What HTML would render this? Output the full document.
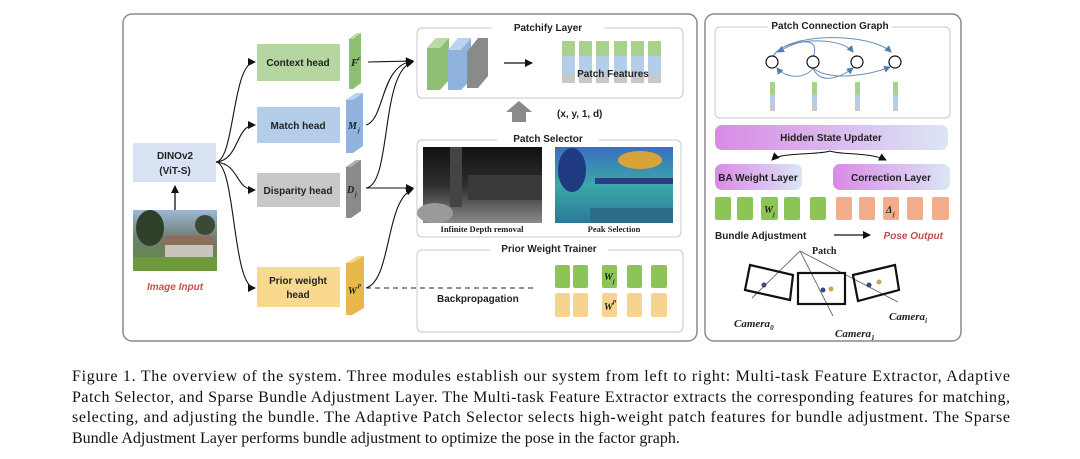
<!DOCTYPE html>
<html><head><meta charset="utf-8"><style>
html,body{margin:0;padding:0;background:#fff;}
svg{display:block;}
.b{font-family:"Liberation Sans",sans-serif;font-weight:bold;font-size:10px;fill:#222;}
.s{font-family:"Liberation Serif",serif;font-size:16px;fill:#111;}
.m{font-family:"Liberation Serif",serif;font-style:italic;font-weight:bold;fill:#222;}
</style></head><body>
<svg width="1080" height="459" viewBox="0 0 1080 459" xmlns="http://www.w3.org/2000/svg">
<defs>
<marker id="ar" markerWidth="8" markerHeight="8" refX="7" refY="4" orient="auto" markerUnits="userSpaceOnUse"><path d="M0,0 L8,4 L0,8 z" fill="#111"/></marker>
<marker id="ab" markerWidth="7" markerHeight="7" refX="6" refY="3.5" orient="auto" markerUnits="userSpaceOnUse"><path d="M0,0 L7,3.5 L0,7 z" fill="#4a7fb0"/></marker>
<linearGradient id="hg" x1="0" x2="1"><stop offset="0" stop-color="#d98ae6"/><stop offset="1" stop-color="#dbe6f5"/></linearGradient>
<linearGradient id="sky" x1="0" y1="0" x2="0" y2="1"><stop offset="0" stop-color="#9bb8d8"/><stop offset="0.45" stop-color="#6f7f70"/><stop offset="1" stop-color="#5f8a3a"/></linearGradient>
<linearGradient id="dep" x1="0" y1="0" x2="0" y2="1"><stop offset="0" stop-color="#111"/><stop offset="0.5" stop-color="#2e2e2e"/><stop offset="1" stop-color="#8a8a8a"/></linearGradient>
<linearGradient id="pk" x1="0" y1="0" x2="0" y2="1"><stop offset="0" stop-color="#3a6fc0"/><stop offset="0.5" stop-color="#3aa8a8"/><stop offset="1" stop-color="#2a7a9a"/></linearGradient>
</defs>
<rect x="0" y="0" width="1080" height="459" fill="#fff"/>
<rect x="123" y="14" width="574" height="327" rx="9" fill="#fff" stroke="#8a8a8a" stroke-width="1.5"/>
<rect x="705" y="14" width="256" height="327" rx="9" fill="#fff" stroke="#8a8a8a" stroke-width="1.5"/>

<rect x="133" y="143" width="83" height="39" fill="#d9e2f3"/>
<text class="b" x="175" y="159" text-anchor="middle">DINOv2</text>
<text class="b" x="175" y="174" text-anchor="middle">(ViT-S)</text>
<rect x="133" y="210" width="84" height="61" fill="url(#sky)"/>
<ellipse cx="150" cy="228" rx="14" ry="18" fill="#2f3f2a"/>
<ellipse cx="205" cy="225" rx="10" ry="10" fill="#3a4a33"/>
<polygon points="166,236 210,236 217,245 160,245" fill="#8c6e5c"/>
<rect x="165" y="245" width="48" height="12" fill="#c9c5bd"/>
<rect x="133" y="257" width="84" height="14" fill="#6c9a3c"/>
<line x1="175" y1="210" x2="175" y2="186" stroke="#111" stroke-width="1.3" marker-end="url(#ar)"/>
<text x="175" y="290" text-anchor="middle" font-family="Liberation Sans,sans-serif" font-size="10" font-style="italic" font-weight="bold" fill="#c0504d">Image Input</text>

<g fill="none" stroke="#111" stroke-width="1.1">
<path d="M216,162 C235,160 232,62 255,62" marker-end="url(#ar)"/>
<path d="M216,162 C240,160 235,125 255,125" marker-end="url(#ar)"/>
<path d="M216,162 C240,164 235,190 255,190" marker-end="url(#ar)"/>
<path d="M216,162 C236,164 232,288 255,288" marker-end="url(#ar)"/>
</g>
<rect x="257" y="44" width="83" height="37" fill="#b5d6a0"/>
<text class="b" x="298" y="66" text-anchor="middle">Context head</text>
<rect x="257" y="107" width="83" height="36" fill="#b4cde8"/>
<text class="b" x="298" y="129" text-anchor="middle">Match head</text>
<rect x="257" y="173" width="83" height="34" fill="#c8c8c8"/>
<text class="b" x="298" y="194" text-anchor="middle">Disparity head</text>
<rect x="257" y="267" width="83" height="40" fill="#f8d98f"/>
<text class="b" x="298" y="284" text-anchor="middle">Prior weight</text>
<text class="b" x="298" y="298" text-anchor="middle">head</text>
<polygon points="349,39 357,33 361,33 361,83 353,89 349,89" fill="#8fbf73"/><polygon points="349,39 357,33 361,33 353,39" fill="#b9dba4"/>
<text class="m" x="351" y="66" font-size="11">F</text><text class="m" x="358" y="60" font-size="6">c</text>
<polygon points="346,100 356,93 363,93 363,146 353,153 346,153" fill="#8fb3dc"/><polygon points="346,100 356,93 363,93 353,100" fill="#bcd3ee"/>
<text class="m" x="348" y="129" font-size="10">M</text><text class="m" x="358" y="132" font-size="6">j</text>
<polygon points="346,167 356,160 361,160 361,211 351,218 346,218" fill="#8a8a8a"/><polygon points="346,167 356,160 361,160 351,167" fill="#b0b0b0"/>
<text class="m" x="347" y="193" font-size="10">D</text><text class="m" x="355" y="196" font-size="6">j</text>
<polygon points="346,263 358,256 364,256 364,308 352,315 346,315" fill="#e8b84a"/><polygon points="346,263 358,256 364,256 352,263" fill="#f6d68a"/>
<text class="m" x="348" y="294" font-size="10">W</text><text class="m" x="358" y="287" font-size="6">p</text>

<g fill="none" stroke="#111" stroke-width="1.1">
<path d="M368,62 L413,61" marker-end="url(#ar)"/>
<path d="M366,125 C385,120 380,65 413,61" marker-end="url(#ar)"/>
<path d="M366,188 C392,185 380,70 413,62" marker-end="url(#ar)"/>
<path d="M366,188 L413,188" marker-end="url(#ar)"/>
<path d="M366,288 C392,280 385,200 413,189" marker-end="url(#ar)"/>
</g>

<rect x="417" y="28" width="266" height="70" rx="5" fill="#fff" stroke="#c8c8c8" stroke-width="1"/>
<rect x="492" y="22" width="112" height="12" fill="#fff"/>
<text class="b" x="548" y="31" text-anchor="middle">Patchify Layer</text>
<polygon points="427,48 436,38 449,38 449,80 440,90 427,90" fill="#8fbf73"/><polygon points="427,48 436,38 449,38 440,48" fill="#b9dba4"/>
<polygon points="448,50 458,38 471,38 471,80 461,90 448,90" fill="#8fb3dc"/><polygon points="448,50 458,38 471,38 461,50" fill="#bcd3ee"/>
<polygon points="467,52 478,38 488,38 488,76 478,88 467,88" fill="#8a8a8a"/>
<line x1="504" y1="63" x2="532" y2="63" stroke="#111" stroke-width="1.2" marker-end="url(#ar)"/>
<g>
<rect x="562" y="41" width="13" height="15" fill="#a9d18e"/><rect x="562" y="56" width="13" height="18" fill="#b4cde8"/><rect x="562" y="74" width="13" height="9" fill="#c8c8c8"/>
<rect x="579" y="41" width="13" height="15" fill="#a9d18e"/><rect x="579" y="56" width="13" height="18" fill="#b4cde8"/><rect x="579" y="74" width="13" height="9" fill="#c8c8c8"/>
<rect x="596" y="41" width="13" height="15" fill="#a9d18e"/><rect x="596" y="56" width="13" height="18" fill="#b4cde8"/><rect x="596" y="74" width="13" height="9" fill="#c8c8c8"/>
<rect x="614" y="41" width="13" height="15" fill="#a9d18e"/><rect x="614" y="56" width="13" height="18" fill="#b4cde8"/><rect x="614" y="74" width="13" height="9" fill="#c8c8c8"/>
<rect x="631" y="41" width="13" height="15" fill="#a9d18e"/><rect x="631" y="56" width="13" height="18" fill="#b4cde8"/><rect x="631" y="74" width="13" height="9" fill="#c8c8c8"/>
<rect x="648" y="41" width="13" height="15" fill="#a9d18e"/><rect x="648" y="56" width="13" height="18" fill="#b4cde8"/><rect x="648" y="74" width="13" height="9" fill="#c8c8c8"/>
</g>
<text class="b" x="613" y="77" text-anchor="middle" font-size="10.5">Patch Features</text>
<polygon points="512,122 512,112 506,112 519,101 532,112 526,112 526,122" fill="#8a8a8a"/>
<text class="b" x="557" y="117">(x, y, 1, d)</text>

<rect x="417" y="140" width="264" height="97" rx="5" fill="#fff" stroke="#c8c8c8" stroke-width="1"/>
<rect x="497" y="134" width="102" height="12" fill="#fff"/>
<text class="b" x="548" y="142" text-anchor="middle">Patch Selector</text>
<rect x="423" y="147" width="119" height="76" fill="url(#dep)"/>
<rect x="450" y="147" width="12" height="60" fill="#444"/>
<rect x="468" y="175" width="74" height="25" fill="#3a3a3a"/>
<ellipse cx="435" cy="213" rx="18" ry="10" fill="#9a9a9a"/>
<rect x="555" y="147" width="118" height="76" fill="url(#pk)"/>
<ellipse cx="572" cy="170" rx="14" ry="22" fill="#1f3a80"/>
<ellipse cx="640" cy="160" rx="22" ry="9" fill="#d8a43a"/>
<rect x="595" y="178" width="78" height="6" fill="#2a3d86"/>
<rect x="590" y="208" width="83" height="15" fill="#2b6c8a"/>
<text x="482" y="232" text-anchor="middle" font-family="Liberation Serif,serif" font-weight="bold" font-size="8.5" fill="#222">Infinite Depth removal</text>
<text x="614" y="232" text-anchor="middle" font-family="Liberation Serif,serif" font-weight="bold" font-size="8.5" fill="#222">Peak Selection</text>

<rect x="417" y="250" width="266" height="82" rx="5" fill="#fff" stroke="#c8c8c8" stroke-width="1"/>
<rect x="490" y="244" width="118" height="12" fill="#fff"/>
<text class="b" x="549" y="252" text-anchor="middle">Prior Weight Trainer</text>
<line x1="366" y1="288" x2="533" y2="288" stroke="#222" stroke-width="1.1" stroke-dasharray="5,4"/>
<text class="b" x="437" y="302">Backpropagation</text>
<g fill="#8dc456">
<rect x="555" y="265" width="15" height="23" rx="2"/><rect x="573" y="265" width="15" height="23" rx="2"/><rect x="602" y="265" width="15" height="23" rx="2"/><rect x="627" y="265" width="15" height="23" rx="2"/><rect x="651" y="265" width="16" height="23" rx="2"/>
</g>
<g fill="#f7d38f">
<rect x="555" y="293" width="15" height="24" rx="2"/><rect x="573" y="293" width="15" height="24" rx="2"/><rect x="602" y="293" width="15" height="24" rx="2"/><rect x="627" y="293" width="15" height="24" rx="2"/><rect x="651" y="293" width="16" height="24" rx="2"/>
</g>
<text class="m" x="604" y="280" font-size="10">W</text><text class="m" x="613" y="283" font-size="6">j</text>
<text class="m" x="604" y="310" font-size="10">W</text><text class="m" x="613" y="303" font-size="6">p</text>

<rect x="715" y="27" width="235" height="91" rx="5" fill="#fff" stroke="#c8c8c8" stroke-width="1"/>
<rect x="768" y="21" width="124" height="12" fill="#fff"/>
<text class="b" x="830" y="29" text-anchor="middle">Patch Connection Graph</text>
<g fill="none" stroke="#6a8fb5" stroke-width="1">
<path d="M773,57 C780,38 840,35 853,52" marker-end="url(#ab)"/>
<path d="M773,57 C785,32 870,32 891,52" marker-end="url(#ab)"/>
<path d="M813,57 C820,40 805,36 778,52" marker-end="url(#ab)"/>
<path d="M813,68 C830,82 870,75 890,67" marker-end="url(#ab)"/>
<path d="M813,68 C820,85 840,78 853,68" marker-end="url(#ab)"/>
<path d="M813,68 C805,80 785,78 777,68" marker-end="url(#ab)"/>
</g>
<g fill="#fff" stroke="#111" stroke-width="1.2">
<circle cx="772" cy="62" r="6"/><circle cx="813" cy="62" r="6"/><circle cx="857" cy="62" r="6"/><circle cx="895" cy="62" r="6"/>
</g>
<g>
<rect x="770" y="82" width="5" height="13" fill="#a9d18e"/><rect x="770" y="95" width="5" height="10" fill="#b4cde8"/><rect x="770" y="105" width="5" height="6" fill="#c8c8c8"/>
<rect x="812" y="82" width="5" height="13" fill="#a9d18e"/><rect x="812" y="95" width="5" height="10" fill="#b4cde8"/><rect x="812" y="105" width="5" height="6" fill="#c8c8c8"/>
<rect x="855" y="82" width="5" height="13" fill="#a9d18e"/><rect x="855" y="95" width="5" height="10" fill="#b4cde8"/><rect x="855" y="105" width="5" height="6" fill="#c8c8c8"/>
<rect x="893" y="82" width="5" height="13" fill="#a9d18e"/><rect x="893" y="95" width="5" height="10" fill="#b4cde8"/><rect x="893" y="105" width="5" height="6" fill="#c8c8c8"/>
</g>
<rect x="715" y="125" width="233" height="25" rx="7" fill="url(#hg)"/>
<text class="b" x="831" y="141" text-anchor="middle">Hidden State Updater</text>
<g fill="none" stroke="#111" stroke-width="1"><path d="M830,151 C820,155 780,152 772,160" marker-end="url(#ar)"/><path d="M830,151 C840,155 870,152 886,160" marker-end="url(#ar)"/></g>
<rect x="715" y="164" width="87" height="26" rx="7" fill="url(#hg)"/>
<text class="b" x="758" y="181" text-anchor="middle">BA Weight Layer</text>
<rect x="833" y="164" width="117" height="26" rx="7" fill="url(#hg)"/>
<text class="b" x="891" y="181" text-anchor="middle">Correction Layer</text>
<g fill="#8dc456">
<rect x="715" y="197" width="16" height="23" rx="2"/><rect x="737" y="197" width="16" height="23" rx="2"/><rect x="761" y="197" width="17" height="23" rx="2"/><rect x="784" y="197" width="16" height="23" rx="2"/><rect x="810" y="197" width="16" height="23" rx="2"/>
</g>
<g fill="#f3ad8a">
<rect x="836" y="197" width="16" height="23" rx="2"/><rect x="859" y="197" width="16" height="23" rx="2"/><rect x="883" y="197" width="16" height="23" rx="2"/><rect x="907" y="197" width="16" height="23" rx="2"/><rect x="932" y="197" width="17" height="23" rx="2"/>
</g>
<text class="m" x="764" y="213" font-size="10">W</text><text class="m" x="773" y="216" font-size="6">j</text>
<text class="m" x="886" y="213" font-size="10">Δ</text><text class="m" x="893" y="216" font-size="6">j</text>
<text class="b" x="715" y="239">Bundle Adjustment</text>
<line x1="834" y1="235" x2="870" y2="235" stroke="#111" stroke-width="1.2" marker-end="url(#ar)"/>
<text x="943" y="239" text-anchor="end" font-family="Liberation Sans,sans-serif" font-weight="bold" font-style="italic" font-size="10" fill="#c0504d">Pose Output</text>
<text x="812" y="254" font-family="Liberation Serif,serif" font-weight="bold" font-size="10" fill="#222">Patch</text>
<g stroke="#666" stroke-width="0.9"><line x1="800" y1="251" x2="752" y2="298"/><line x1="800" y1="251" x2="833" y2="316"/><line x1="800" y1="251" x2="898" y2="302"/></g>
<g fill="none" stroke="#111" stroke-width="2.2">
<polygon points="750,265 793,275 790,300 745,290"/>
<rect x="798" y="273" width="47" height="31"/>
<polygon points="853,275 895,265 899,290 858,301"/>
</g>
<circle cx="764" cy="285" r="2.5" fill="#3a4a7a"/><circle cx="823" cy="290" r="2.5" fill="#3a4a7a"/><circle cx="831" cy="289" r="2.5" fill="#c8a850"/><circle cx="869" cy="285" r="2.5" fill="#3a4a7a"/><circle cx="879" cy="282" r="2.5" fill="#c8a850"/>
<text class="m" x="734" y="327" font-size="11">Camera<tspan font-size="7" dy="3">0</tspan></text>
<text class="m" x="835" y="337" font-size="11">Camera<tspan font-size="7" dy="3">1</tspan></text>
<text class="m" x="889" y="320" font-size="11">Camera<tspan font-size="7" dy="3">i</tspan></text>

<text class="s" x="72" y="381" textLength="938" lengthAdjust="spacing">Figure 1.  The overview of the system.  Three modules establish our system from left to right: Multi-task Feature Extractor, Adaptive</text>
<text class="s" x="72" y="402" textLength="938" lengthAdjust="spacing">Patch Selector, and Sparse Bundle Adjustment Layer. The Multi-task Feature Extractor extracts the corresponding features for matching,</text>
<text class="s" x="72" y="422" textLength="938" lengthAdjust="spacing">selecting, and adjusting the bundle.  The Adaptive Patch Selector selects high-weight patch features for bundle adjustment.  The Sparse</text>
<text class="s" x="72" y="443">Bundle Adjustment Layer performs bundle adjustment to optimize the pose in the factor graph.</text>
</svg>
</body></html>
